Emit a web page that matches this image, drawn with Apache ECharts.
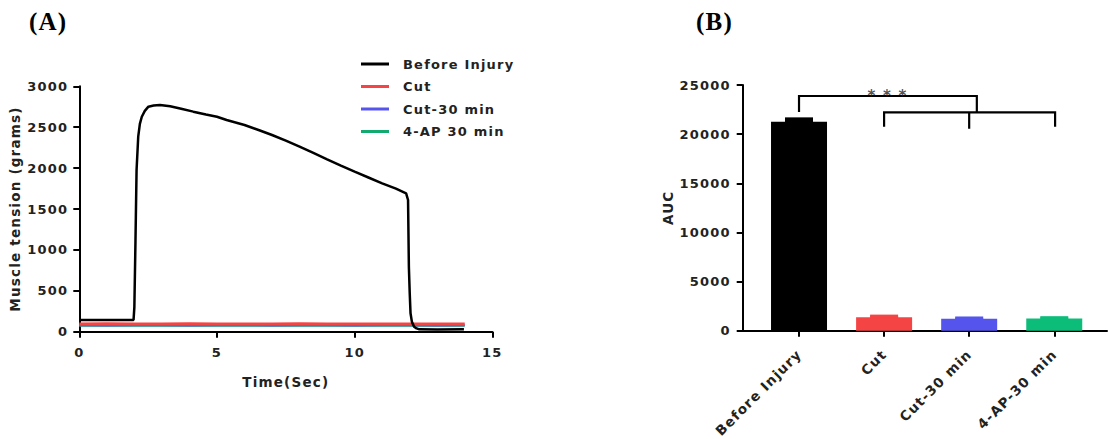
<!DOCTYPE html>
<html>
<head>
<meta charset="utf-8">
<script src="https://cdn.jsdelivr.net/npm/echarts@6/dist/echarts.min.js"></script>
<style>
  html, body { margin: 0; padding: 0; background: #fff; }
  #chart { width: 1108px; height: 439px; }
  /* GraphPad-style wide lettering */
  #chart text { letter-spacing: 1.2px; }
</style>
</head>
<body>
<div id="chart"></div>
<script>
// panel A: muscle tension traces
var beforeTime  = [0, 1.0, 1.97, 2.0, 2.04, 2.08, 2.14, 2.2, 2.27, 2.38, 2.51, 2.7, 2.93, 3.3, 3.7, 4.14, 4.6, 5.0, 5.35, 6.0, 6.56, 7.0, 7.5, 8.0, 8.5, 9.0, 9.5, 10.0, 10.5, 11.0, 11.5, 11.87, 11.94, 11.97, 12.0, 12.03, 12.08, 12.16, 12.25, 12.35, 13.0, 13.97];
var beforeValue = [143, 142, 143, 300, 1100, 1977, 2384, 2540, 2628, 2700, 2751, 2765, 2771, 2755, 2725, 2690, 2655, 2628, 2588, 2527, 2460, 2405, 2335, 2262, 2185, 2107, 2030, 1956, 1885, 1814, 1750, 1692, 1610, 795, 480, 225, 120, 61, 40, 29, 28, 29];
var flatTime    = [0, 1, 2, 3, 4, 5, 6, 7, 8, 9, 10, 11, 12, 13, 14];
var cutValue    = [94, 96, 93, 95, 97, 94, 95, 93, 96, 94, 95, 93, 95, 94, 95];
var cut30Value  = [78, 77, 79, 78, 76, 78, 79, 77, 78, 78, 77, 79, 78, 77, 78];
var apValue     = [74, 75, 73, 74, 75, 74, 73, 75, 74, 74, 75, 73, 74, 75, 74];
var traceNames  = ['Before Injury', 'Cut', 'Cut-30 min', '4-AP 30 min'];

// panel B: area under curve
var barCats  = ['Before Injury', 'Cut', 'Cut-30 min', '4-AP-30 min'];
var aucMean  = [21250, 1360, 1220, 1250];
var aucErr   = [330, 150, 100, 100];
var barColors = ['#000000', '#f54444', '#5555ee', '#0cbd7a'];
var traceColors = ['#000000', '#f54444', '#5555ee', '#13aa70'];

// significance brackets, in data units of panel B
var brackets = [
  [[0, 22250], [0, 23880], [2.09, 23880], [2.09, 22220]],
  [[1, 20750], [1, 22220], [3.01, 22220], [3.01, 20750]],
  [[2, 22220], [2, 20550]]
];
var starsPos = [[1.04, 23900]];

var font = 'DejaVu Sans';
var ink = '#222';

function zip(a, b) { return a.map(function (v, i) { return [v, b[i]]; }); }
function plain(v) { return String(v); }

var chart = echarts.init(document.getElementById('chart'), null, { renderer: 'svg' });

var axisLine = { show: true, onZero: false, lineStyle: { color: '#000', width: 2 } };
var axisTick = { show: true, length: 6, lineStyle: { color: '#000', width: 2 } };
var tickLabel = { color: ink, fontFamily: font, fontWeight: 'bold', fontSize: 13, formatter: plain };
var nameText = { color: ink, fontFamily: font, fontWeight: 'bold', fontSize: 13.5 };

var option = {
  animation: false,
  graphic: [
    { type: 'text', left: 29, top: 9, style: { text: '(A)', font: 'bold 25px "Liberation Serif"', fill: '#000' } },
    { type: 'text', left: 696, top: 9, style: { text: '(B)', font: 'bold 25px "Liberation Serif"', fill: '#000' } }
  ],
  legend: {
    data: traceNames,
    orient: 'vertical',
    left: 361,
    top: 57,
    padding: 0,
    itemWidth: 28,
    itemHeight: 3,
    itemGap: 8.5,
    icon: 'rect',
    textStyle: { color: ink, fontFamily: font, fontWeight: 'bold', fontSize: 13, lineHeight: 14, padding: [0, 0, 0, 9] }
  },
  grid: [
    { left: 79.3, right: 615.7, top: 86.3, bottom: 107.3 },
    { left: 742.7, right: 1, top: 85, bottom: 108.3 }
  ],
  xAxis: [
    {
      gridIndex: 0, type: 'value', min: 0, max: 15, interval: 5,
      name: 'Time(Sec)', nameLocation: 'middle', nameGap: 43, nameTextStyle: nameText,
      axisLine: axisLine, axisTick: axisTick, splitLine: { show: false },
      axisLabel: Object.assign({ margin: 14 }, tickLabel)
    },
    {
      gridIndex: 1, type: 'value', min: -0.662, max: 3.62,
      axisLine: axisLine, splitLine: { show: false },
      axisTick: Object.assign({ customValues: [0, 1, 2, 3] }, axisTick),
      axisLabel: {
        customValues: [0, 1, 2, 3], rotate: 45, margin: 21,
        color: ink, fontFamily: font, fontWeight: 'bold', fontSize: 13.5,
        formatter: function (v) { return barCats[Math.round(v)]; }
      }
    }
  ],
  yAxis: [
    {
      gridIndex: 0, type: 'value', min: 0, max: 3000, interval: 500,
      name: 'Muscle tension (grams)', nameLocation: 'middle', nameGap: 57, nameTextStyle: nameText,
      axisLine: axisLine, axisTick: axisTick, splitLine: { show: false },
      axisLabel: Object.assign({ margin: 11 }, tickLabel)
    },
    {
      gridIndex: 1, type: 'value', min: 0, max: 25000, interval: 5000,
      name: 'AUC', nameLocation: 'middle', nameGap: 68, nameTextStyle: nameText,
      axisLine: axisLine, axisTick: axisTick, splitLine: { show: false },
      axisLabel: Object.assign({ margin: 12 }, tickLabel)
    }
  ],
  series: [
    {
      name: traceNames[3], type: 'line', xAxisIndex: 0, yAxisIndex: 0, showSymbol: false,
      data: zip(flatTime, apValue), itemStyle: { color: traceColors[3] },
      lineStyle: { color: traceColors[3], width: 2 }
    },
    {
      name: traceNames[2], type: 'line', xAxisIndex: 0, yAxisIndex: 0, showSymbol: false,
      data: zip(flatTime, cut30Value), itemStyle: { color: traceColors[2] },
      lineStyle: { color: traceColors[2], width: 2 }
    },
    {
      name: traceNames[1], type: 'line', xAxisIndex: 0, yAxisIndex: 0, showSymbol: false,
      data: zip(flatTime, cutValue), itemStyle: { color: traceColors[1] },
      lineStyle: { color: traceColors[1], width: 3 }
    },
    {
      name: traceNames[0], type: 'line', xAxisIndex: 0, yAxisIndex: 0, showSymbol: false,
      data: zip(beforeTime, beforeValue), itemStyle: { color: traceColors[0] },
      lineStyle: { color: traceColors[0], width: 2.5 }
    },
    {
      type: 'bar', xAxisIndex: 1, yAxisIndex: 1, barWidth: 56,
      data: aucMean.map(function (v, i) {
        return { value: [i, v], itemStyle: { color: barColors[i] } };
      })
    },
    {
      type: 'custom', xAxisIndex: 1, yAxisIndex: 1, z: 3,
      data: aucMean.map(function (v, i) { return [i, v, aucErr[i]]; }),
      renderItem: function (params, api) {
        var x = api.value(0), m = api.value(1), e = api.value(2);
        var p0 = api.coord([x, m]);
        var p1 = api.coord([x, m + e]);
        var c = barColors[params.dataIndex];
        return {
          type: 'group',
          children: [
            { type: 'rect', shape: { x: p1[0] - 14, y: p1[1], width: 28, height: p0[1] - p1[1] + 1 }, style: { fill: c } },
            { type: 'line', shape: { x1: p1[0] - 14, y1: p1[1], x2: p1[0] + 14, y2: p1[1] }, style: { stroke: c, lineWidth: 2.5 } }
          ]
        };
      }
    },
    {
      type: 'lines', coordinateSystem: 'cartesian2d', xAxisIndex: 1, yAxisIndex: 1,
      polyline: true, z: 4, silent: true,
      data: brackets.map(function (b) { return { coords: b }; }),
      lineStyle: { color: '#000', width: 2.2, opacity: 1 }
    },
    {
      type: 'scatter', xAxisIndex: 1, yAxisIndex: 1, symbolSize: 0, z: 5,
      data: starsPos,
      label: {
        show: true, position: 'inside', formatter: '* * *',
        color: ink, fontFamily: font, fontWeight: 'bold', fontSize: 15
      }
    }
  ]
};

chart.setOption(option);
</script>
</body>
</html>
